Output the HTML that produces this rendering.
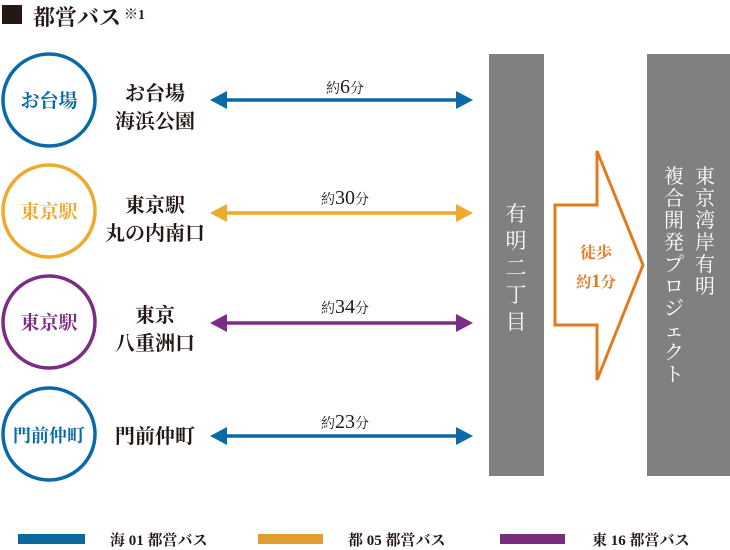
<!DOCTYPE html>
<html><head><meta charset="utf-8"><style>
html,body{margin:0;padding:0;background:#fff;width:730px;height:550px;overflow:hidden}
svg text{font-family:"Liberation Serif","Noto Serif CJK SC",serif}
</style></head><body>
<svg width="730" height="550" viewBox="0 0 730 550" xmlns="http://www.w3.org/2000/svg">
<rect x="2" y="5" width="20" height="19" fill="#231815"/>
<text x="33" y="25" font-size="22" fill="#231815" font-weight="bold">都営バス</text>
<text x="124" y="19" font-size="14" fill="#231815" font-weight="bold">※1</text>

<g stroke-width="3.5" fill="none">
<circle cx="49" cy="100" r="46" stroke="#0a6aa8"/>
<circle cx="49" cy="211" r="46" stroke="#eeaa2c"/>
<circle cx="49" cy="322" r="46" stroke="#7b2d86"/>
<circle cx="49" cy="434" r="46" stroke="#0a6aa8"/>
</g>
<g font-size="19" text-anchor="middle" font-weight="bold">
<text x="49" y="107" fill="#0a6aa8">お台場</text>
<text x="49" y="218" fill="#eeaa2c">東京駅</text>
<text x="49" y="329" fill="#7b2d86">東京駅</text>
<text x="49" y="442" fill="#0a6aa8" font-size="18">門前仲町</text>
</g>
<g font-size="20" text-anchor="middle" fill="#231815" font-weight="bold">
<text x="155" y="100">お台場</text>
<text x="155" y="128">海浜公園</text>
<text x="155" y="212">東京駅</text>
<text x="155" y="240">丸の内南口</text>
<text x="155" y="322">東京</text>
<text x="155" y="350">八重洲口</text>
<text x="155" y="443">門前仲町</text>
</g>
<g font-size="20" text-anchor="middle" fill="#231815">
<text x="345" y="93"><tspan font-size="14">約</tspan>6<tspan font-size="14">分</tspan></text>
<text x="345" y="204"><tspan font-size="14">約</tspan>30<tspan font-size="14">分</tspan></text>
<text x="345" y="313"><tspan font-size="14">約</tspan>34<tspan font-size="14">分</tspan></text>
<text x="345" y="428"><tspan font-size="14">約</tspan>23<tspan font-size="14">分</tspan></text>
</g>
<g>
<line x1="222" y1="100" x2="460" y2="100" stroke="#0a6aa8" stroke-width="3.5"/>
<polygon points="210,100 227,91 227,109" fill="#0a6aa8"/><polygon points="473,100 456,91 456,109" fill="#0a6aa8"/>
<line x1="222" y1="213" x2="460" y2="213" stroke="#eeaa2c" stroke-width="3.5"/>
<polygon points="210,213 227,204 227,222" fill="#eeaa2c"/><polygon points="473,213 456,204 456,222" fill="#eeaa2c"/>
<line x1="222" y1="323" x2="460" y2="323" stroke="#7b2d86" stroke-width="3.5"/>
<polygon points="210,323 227,314 227,332" fill="#7b2d86"/><polygon points="473,323 456,314 456,332" fill="#7b2d86"/>
<line x1="222" y1="436" x2="460" y2="436" stroke="#0a6aa8" stroke-width="3.5"/>
<polygon points="210,436 227,427 227,445" fill="#0a6aa8"/><polygon points="473,436 456,427 456,445" fill="#0a6aa8"/>
</g>

<rect x="489" y="54" width="55" height="422" fill="#808080"/>
<rect x="647" y="54" width="83" height="422" fill="#808080"/>
<g font-size="21" fill="#fff" text-anchor="middle">
<text x="516" y="221">有</text><text x="516" y="248">明</text><text x="516" y="275">二</text><text x="516" y="302">丁</text><text x="516" y="329">目</text>
</g>
<g font-size="20" fill="#fff" text-anchor="middle">
<text x="705" y="183">東</text><text x="705" y="205">京</text><text x="705" y="227">湾</text><text x="705" y="249">岸</text><text x="705" y="271">有</text><text x="705" y="293">明</text>
<text x="674" y="183">複</text><text x="674" y="205">合</text><text x="674" y="227">開</text><text x="674" y="249">発</text><text x="674" y="271">プ</text><text x="674" y="293">ロ</text><text x="674" y="315">ジ</text><text x="674" y="337">ェ</text><text x="674" y="359">ク</text><text x="674" y="381">ト</text>
</g>
<polygon points="555,205 597,205 597,151 643,265 597,380 597,325 555,325" fill="#fff" stroke="#e27b1f" stroke-width="3" stroke-linejoin="miter"/>
<text x="596" y="258" font-size="16" fill="#e27b1f" text-anchor="middle" font-weight="bold">徒歩</text>
<text x="596" y="287" font-size="19" fill="#e27b1f" text-anchor="middle" font-weight="bold"><tspan font-size="15">約</tspan>1<tspan font-size="15">分</tspan></text>

<rect x="18" y="534" width="67" height="10" fill="#0a6aa0"/>
<rect x="258" y="534" width="65" height="10" fill="#e19d30"/>
<rect x="500" y="534" width="65" height="10" fill="#7b2d7d"/>
<g font-size="15" fill="#231815" font-weight="bold">
<text x="110" y="545">海 01 都営バス</text>
<text x="348" y="545">都 05 都営バス</text>
<text x="592" y="545">東 16 都営バス</text>
</g>
</svg>
</body></html>
